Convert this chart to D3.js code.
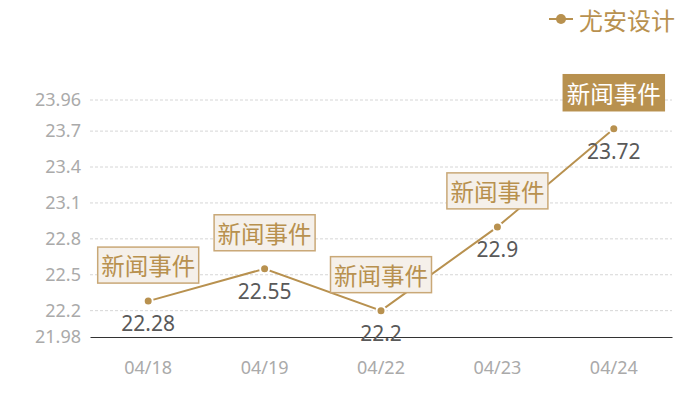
<!DOCTYPE html>
<html>
<head>
<meta charset="utf-8">
<script src="https://cdn.jsdelivr.net/npm/d3@7"></script>
<style>
  body { margin: 0; background: #fff; }
  text { font-family: "Noto Sans CJK SC", "Noto Sans", sans-serif; }
  .num { font-family: "Noto Sans", "Open Sans", sans-serif; }
</style>
</head>
<body>
<svg id="chart" width="700" height="400"></svg>
<script>
'use strict';

// data
const dates = ['04/18', '04/19', '04/22', '04/23', '04/24'];
const values = [22.28, 22.55, 22.2, 22.9, 23.72];
const events = ['新闻事件', '新闻事件', '新闻事件', '新闻事件', '新闻事件'];
const yTicks = [21.98, 22.2, 22.5, 22.8, 23.1, 23.4, 23.7, 23.96];
const seriesName = '尤安设计';

const gold = '#b8914f';
const margin = {top: 100, right: 28, bottom: 63, left: 90};
const width = 700, height = 400;

const svg = d3.select('#chart');

const x = d3.scaleBand()
  .domain(dates)
  .range([margin.left, width - margin.right]);

const y = d3.scaleLinear()
  .domain([21.98, 23.96])
  .range([height - margin.bottom, margin.top]);

// dashed gridlines
svg.append('g')
  .selectAll('line')
  .data(yTicks.slice(1))
  .join('line')
  .attr('x1', margin.left)
  .attr('x2', width - margin.right)
  .attr('y1', d => y(d))
  .attr('y2', d => y(d))
  .attr('stroke', '#d6d6d6')
  .attr('stroke-dasharray', '3,2');

// y axis labels
const yAxis = svg.append('g')
  .attr('transform', `translate(${margin.left},0)`)
  .call(d3.axisLeft(y).tickValues(yTicks).tickFormat(d => String(d)).tickSize(0).tickPadding(9));
yAxis.select('.domain').remove();
yAxis.selectAll('text')
  .attr('class', 'num')
  .attr('fill', '#aaa')
  .style('font-size', '18px');

// x axis
const xAxis = svg.append('g')
  .attr('transform', `translate(0,${height - margin.bottom})`)
  .call(d3.axisBottom(x).tickSize(0).tickPadding(24));
xAxis.select('.domain').attr('stroke', '#333').attr('stroke-width', 1.2);
xAxis.selectAll('text')
  .attr('class', 'num')
  .attr('fill', '#aaa')
  .style('font-size', '18px');

const cx = d => x(d) + x.bandwidth() / 2;
const pts = dates.map((d, i) => ({date: d, value: values[i], event: events[i], last: i === dates.length - 1}));

// line
svg.append('path')
  .datum(pts)
  .attr('fill', 'none')
  .attr('stroke', gold)
  .attr('stroke-width', 2)
  .attr('d', d3.line().x(d => cx(d.date)).y(d => y(d.value)));

// points
svg.append('g')
  .selectAll('circle')
  .data(pts)
  .join('circle')
  .attr('cx', d => cx(d.date))
  .attr('cy', d => y(d.value))
  .attr('r', 4.5)
  .attr('fill', gold)
  .attr('stroke', '#fff')
  .attr('stroke-width', 2);

// value labels
svg.append('g')
  .selectAll('text')
  .data(pts)
  .join('text')
  .attr('class', 'num')
  .attr('x', d => cx(d.date))
  .attr('y', d => y(d.value) + 22)
  .attr('text-anchor', 'middle')
  .attr('dominant-baseline', 'central')
  .attr('fill', '#595959')
  .style('font-size', '21px')
  .text(d => d.value);

// event boxes
const boxW = 101, boxH = 36;
const ev = svg.append('g')
  .selectAll('g')
  .data(pts)
  .join('g')
  .attr('transform', d => `translate(${cx(d.date)},${y(d.value) - 18 - boxH / 2})`);

ev.append('rect')
  .attr('x', -boxW / 2)
  .attr('y', -boxH / 2)
  .attr('width', boxW)
  .attr('height', boxH)
  .attr('fill', d => d.last ? gold : '#f5f0ea')
  .attr('stroke', d => d.last ? gold : '#c9a877')
  .attr('stroke-width', 1.5);

ev.append('text')
  .attr('text-anchor', 'middle')
  .attr('dominant-baseline', 'central')
  .attr('fill', d => d.last ? '#fff' : gold)
  .style('font-size', '23.5px')
  .text(d => d.event);

// legend
const lg = svg.append('g').attr('transform', 'translate(549,19)');
lg.append('line')
  .attr('x1', 0).attr('x2', 24)
  .attr('stroke', gold).attr('stroke-width', 2);
lg.append('circle')
  .attr('cx', 12).attr('r', 5)
  .attr('fill', gold);
lg.append('text')
  .attr('x', 30)
  .attr('dominant-baseline', 'central')
  .attr('fill', gold)
  .style('font-size', '24px')
  .text(seriesName);
</script>
</body>
</html>
